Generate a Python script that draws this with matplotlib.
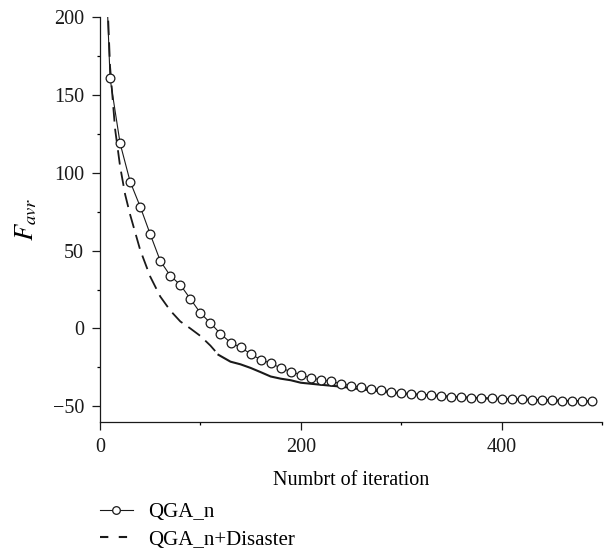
import numpy as np
import matplotlib
matplotlib.use("Agg")
import matplotlib.pyplot as plt
from matplotlib.ticker import MultipleLocator
from matplotlib.lines import Line2D

plt.rcParams['font.family'] = ['Liberation Serif', 'DejaVu Serif']
plt.rcParams['mathtext.fontset'] = 'stix'

# QGA_n, one marker every 10 iterations (x=0 point lies above the axes)
qga_x = [0, 10, 20, 30, 40, 50, 60, 70, 80, 90, 100, 110, 120, 130, 140, 150,
         160, 170, 180, 190, 200, 210, 220, 230, 240, 250, 260, 270, 280, 290,
         300, 310, 320, 330, 340, 350, 360, 370, 380, 390, 400, 410, 420, 430,
         440, 450, 460, 470, 480, 490]
qga_y = [330, 160.5, 118.8, 94.2, 78.2, 60.5, 43.4, 33.8, 28.0, 19.0, 9.9, 3.5,
         -3.4, -9.0, -12.2, -16.2, -20.1, -22.2, -25.4, -27.6, -29.7, -31.8,
         -32.9, -34.0, -35.4, -36.7, -37.6, -38.7, -39.3, -40.8, -41.4, -42.1,
         -42.5, -42.5, -43.3, -44.0, -44.2, -44.4, -44.6, -44.9, -45.1, -45.3,
         -45.5, -45.7, -45.7, -45.9, -46.2, -46.4, -46.5, -46.8]

# QGA_n+Disaster
dis_x = [0, 10, 15, 20, 25, 30, 40, 50, 60, 70, 80, 90, 100, 110, 118, 130,
         140, 150, 160, 170, 180, 190, 200, 220, 240, 260, 280, 300, 320, 340,
         360, 380, 400, 420, 440, 460, 480, 490]
dis_y = [330, 168, 128, 104, 86, 73, 50.4, 33.3, 20.5, 11.5, 4.5, 0.0, -4.8,
         -11.0, -16.9, -21.3, -23.0, -25.3, -28.0, -30.8, -32.2, -33.2, -34.8,
         -36.1, -37.3, -39.0, -40.3, -41.6, -42.6, -43.4, -44.1, -44.7, -45.2,
         -45.6, -46.0, -46.4, -46.6, -46.8]

split = 118  # the dashed curve turns solid here

fig = plt.figure(figsize=(6.08, 5.6), dpi=100)
ax = fig.add_axes([0.1645, 0.2464, 0.8255, 0.7238])

dx = np.array(dis_x)
dy = np.array(dis_y)
ax.plot(dx[dx <= split], dy[dx <= split], color='#1a1a1a', lw=1.3,
        dashes=(8, 4))
ax.plot(dx[dx >= split], dy[dx >= split], color='#1a1a1a', lw=1.5)

ax.plot(qga_x, qga_y, color='#1a1a1a', lw=0.8, marker='o', ms=6.3,
        mfc='white', mec='#1a1a1a', mew=0.9)

ax.set_xlim(0, 500)
ax.set_ylim(-60, 200)
ax.xaxis.set_major_locator(MultipleLocator(200))
ax.xaxis.set_minor_locator(MultipleLocator(100))
ax.yaxis.set_major_locator(MultipleLocator(50))
ax.yaxis.set_minor_locator(MultipleLocator(25))
ax.tick_params(which='major', direction='out', length=5.5, width=0.9,
               labelsize=14.5, colors='#1a1a1a', pad=6)
ax.tick_params(which='minor', direction='out', length=2.5, width=0.9)
for s in ['top', 'right']:
    ax.spines[s].set_visible(False)
for s in ['left', 'bottom']:
    ax.spines[s].set_linewidth(0.9)
    ax.spines[s].set_color('#1a1a1a')

ax.set_xlabel('Numbrt of iteration', fontsize=14.5, labelpad=10)
ax.set_ylabel(r'$F_{avr}$', fontsize=19, labelpad=10)

handles = [
    Line2D([], [], color='#1a1a1a', lw=0.8, marker='o', ms=5.5,
           mfc='white', mec='#1a1a1a', mew=0.9),
    Line2D([], [], color='#1a1a1a', lw=1.5, dashes=(4, 5)),
]
fig.legend(handles, ['QGA_n', 'QGA_n+Disaster'], loc='upper left',
           bbox_to_anchor=(0.150, 0.118), frameon=False, fontsize=15,
           handlelength=1.6, handletextpad=0.75, labelspacing=0.4,
           numpoints=1, borderaxespad=0)

fig.savefig('out.png', dpi=100)
